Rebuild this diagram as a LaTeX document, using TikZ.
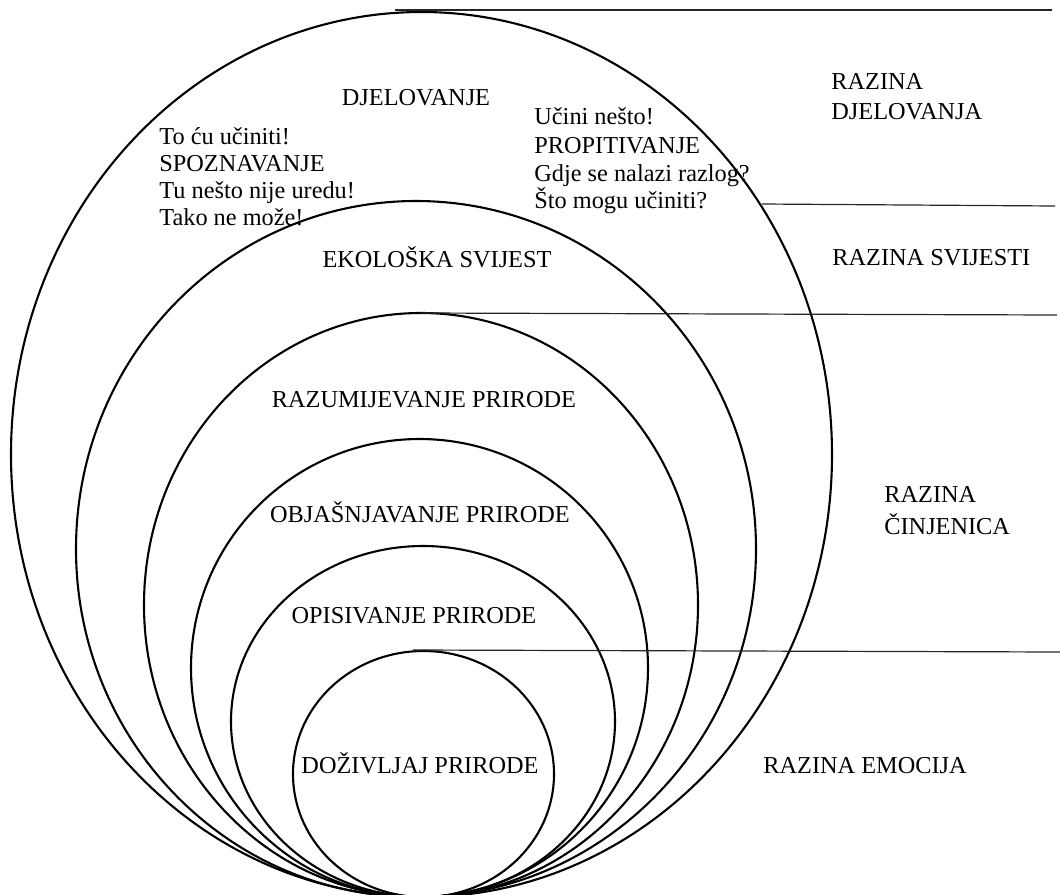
\documentclass[tikz,border=0pt]{standalone}
\usepackage{fontspec}
\setmainfont{Liberation Serif}
\newfontfamily\timesf{Liberation Serif}
\begin{document}
\begin{tikzpicture}[x=0.5bp,y=-0.5bp,
  ring/.style={draw=black,line width=1.05bp},
  rule/.style={draw=black!85,line width=0.6bp},
  lbl/.style={inner sep=0pt,font=\timesf\fontsize{12.2}{14}\selectfont},
  lblc/.style={lbl,anchor=base},
  lblw/.style={lbl,anchor=base west,align=left}]
\useasboundingbox (0,0) rectangle (1060,895);
% rings
\draw[ring] (421.5,454.5) ellipse [x radius=410.5, y radius=442.5];
\draw[ring] (416,549) ellipse [x radius=340, y radius=348];
\draw[ring] (421,605) ellipse [x radius=277, y radius=292];
\draw[ring] (419.5,668) ellipse [x radius=228.5, y radius=229];
\draw[ring] (423,721.5) ellipse [x radius=192, y radius=175.5];
\draw[ring] (423.5,774) ellipse [x radius=130.5, y radius=123];
% level separators
\coordinate (l1a) at (395,10);  \coordinate (l1b) at (1052,10);
\coordinate (l2a) at (762,204); \coordinate (l2b) at (1055,206);
\coordinate (l3a) at (420,313); \coordinate (l3b) at (1057,315);
\coordinate (l4a) at (413,650); \coordinate (l4b) at (1060,652);
\draw[rule] (l1a) -- (l1b);
\draw[rule] (l2a) -- (l2b);
\draw[rule] (l3a) -- (l3b);
\draw[rule] (l4a) -- (l4b);
% ring labels
\node[lblc] (djel) at (416,105) {DJELOVANJE};
\node[lblc] (eko) at (437,267) {EKOLOŠKA SVIJEST};
\node[lblc] (raz) at (424,407) {RAZUMIJEVANJE PRIRODE};
\node[lblc] (obj) at (420,522) {OBJAŠNJAVANJE PRIRODE};
\node[lblc] (opi) at (414,623) {OPISIVANJE PRIRODE};
\node[lblc] (dozi) at (420,773) {DOŽIVLJAJ PRIRODE};
% side texts
\node[lblw] (t1) at (159,144) {To ću učiniti!};
\node[lblw] (t2) at (159,171) {SPOZNAVANJE};
\node[lblw] (t3) at (159,198) {Tu nešto nije uredu!};
\node[lblw] (t4) at (159,225) {Tako ne može!};
\node[lblw] (u1) at (534,124) {Učini nešto!};
\node[lblw] (u2) at (534,153) {PROPITIVANJE};
\node[lblw] (u3) at (534,181) {Gdje se nalazi razlog?};
\node[lblw] (u4) at (534,208) {Što mogu učiniti?};
% level labels
\node[lblw] (r1a) at (831,89) {RAZINA};
\node[lblw] (r1b) at (831,119) {DJELOVANJA};
\node[lblw] (r2) at (832,265) {RAZINA SVIJESTI};
\node[lblw] (r3a) at (884,502) {RAZINA};
\node[lblw] (r3b) at (884,534) {ČINJENICA};
\node[lblw] (r4) at (763,773) {RAZINA EMOCIJA};
\end{tikzpicture}
\end{document}
